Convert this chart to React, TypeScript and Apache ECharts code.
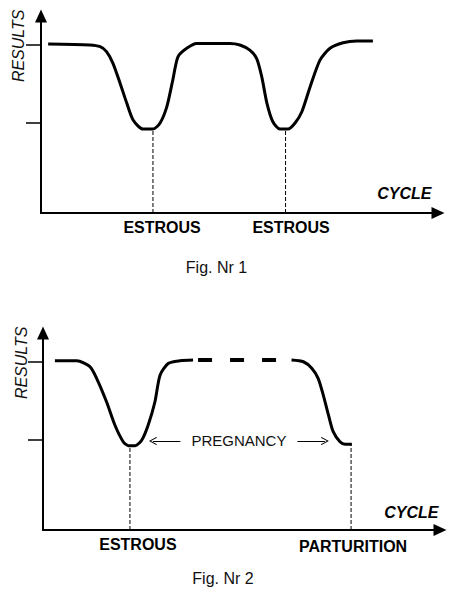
import React, { useEffect, useRef } from "react";
import * as echarts from "echarts";

const FONT = '"Liberation Sans", Arial, Helvetica, sans-serif';

// ---------- Fig. Nr 1 ----------
const fig1Curve: [number, number][] = [
  [1.8, 85.8], [12.3, 85.3], [14.9, 84.4], [16.5, 81.9], [18.1, 76.1],
  [19.9, 66.0], [21.6, 55.8], [23.2, 47.2], [25.7, 42.6], [28.2, 42.6],
  [30.0, 45.7], [31.7, 54.0], [33.2, 67.5], [34.5, 79.3], [36.7, 83.6],
  [39.2, 86.1], [47.6, 86.1], [50.1, 85.3], [52.6, 82.7], [54.3, 78.5],
  [55.6, 69.2], [56.9, 55.8], [58.4, 46.3], [60.2, 42.6], [62.2, 42.6],
  [64.0, 45.7], [65.7, 51.4], [67.8, 64.1], [70.3, 77.7], [72.8, 83.6],
  [76.1, 86.4], [79.5, 87.3], [83.6, 87.3],
];
const fig1EventX = [28.2, 61.6];
const fig1EventY = [42.6, 42.6];
const fig1LabelX = [30.5, 63.0];
const fig1LabelText = ["ESTROUS", "ESTROUS"];

// ---------- Fig. Nr 2 ----------
const fig2CurveStart: [number, number][] = [
  [3.0, 85.9], [8.5, 85.9], [11.8, 82.9], [13.5, 77.0], [16.0, 65.1],
  [18.1, 53.3], [20.2, 44.8], [21.5, 42.8], [23.2, 42.8], [24.9, 45.7],
  [26.5, 53.3], [28.2, 65.1], [29.5, 78.7], [31.6, 84.6], [34.5, 85.9],
  [37.8, 86.3],
];
const fig2Pregnancy: [number, number][] = [[37.8, 86.3], [62.6, 86.3]];
const fig2CurveEnd: [number, number][] = [
  [62.6, 86.3], [65.6, 85.4], [67.7, 82.1], [69.3, 77.0], [70.6, 68.5],
  [71.9, 58.4], [73.1, 49.9], [74.8, 44.8], [76.1, 43.5], [77.8, 43.5],
];
const fig2EventX = [21.9, 77.6];
const fig2EventY = [42.8, 43.5];
const fig2LabelX = [23.9, 78.1];
const fig2LabelText = ["ESTROUS", "PARTURITION"];
const pregnancySpan = [27.7, 71.0];
const pregnancyY = 45.2;

// shared
const levelTicks = [46.0, 85.3];
const captions = ["Fig. Nr 1", "Fig. Nr 2"];
const axisNames = { x: "CYCLE", y: "RESULTS" };

const CHEVRON = "path://M0,10 L5,0 L10,10 L9,10.9 L5,2.6 L1,10.9 Z";

function axisLine() {
  return {
    show: true,
    onZero: false,
    lineStyle: { color: "#000", width: 2 },
    symbol: ["none", "triangle"],
    symbolSize: [12, 13],
  };
}

function makeX(gridIndex: number, labelX: number[], labelText: string[], nameGap: number, namePad: number, lowIndex: number) {
  return {
    type: "value",
    gridIndex,
    min: 0,
    max: 100,
    axisLine: axisLine(),
    axisTick: { show: false },
    splitLine: { show: false },
    axisLabel: {
      show: true,
      customValues: labelX,
      margin: 5,
      hideOverlap: false,
      formatter: (v: number) => {
        const i = labelX.findIndex((x) => Math.abs(x - v) < 1e-6);
        const t = i >= 0 ? labelText[i] : "";
        return i === lowIndex ? `{low|${t}}` : `{base|${t}}`;
      },
      rich: {
        base: { fontFamily: FONT, fontSize: 16, fontWeight: "bold", color: "#000", lineHeight: 18 },
        low: { fontFamily: FONT, fontSize: 16, fontWeight: "bold", color: "#000", lineHeight: 18, padding: [4, 0, 0, 0] },
      },
    },
    name: axisNames.x,
    nameLocation: "end",
    nameGap,
    nameTextStyle: {
      fontFamily: FONT,
      fontSize: 16,
      fontWeight: "bold",
      fontStyle: "italic",
      color: "#000",
      align: "right",
      verticalAlign: "bottom",
      padding: [0, 0, namePad, 0],
    },
  };
}

function makeY(gridIndex: number, namePad: number) {
  return {
    type: "value",
    gridIndex,
    min: 0,
    max: 100,
    axisLine: axisLine(),
    axisTick: { show: true, customValues: levelTicks, length: 15, lineStyle: { color: "#000", width: 1.5 } },
    axisLabel: { show: false },
    splitLine: { show: false },
    name: axisNames.y,
    nameLocation: "end",
    nameRotate: 90,
    nameGap: 6.5,
    nameTextStyle: {
      fontFamily: FONT,
      fontSize: 16,
      fontStyle: "italic",
      color: "#111",
      align: "right",
      verticalAlign: "bottom",
      padding: [0, 0, namePad, 0],
    },
  };
}

function curve(axis: number, data: [number, number][], width = 3, type: any = "solid", dashOffset = 0) {
  return {
    type: "line",
    xAxisIndex: axis,
    yAxisIndex: axis,
    data,
    smooth: 0.25,
    symbol: "none",
    silent: true,
    z: 3,
    lineStyle: { color: "#000", width, type, dashOffset, cap: "butt" },
  };
}

function guides(axis: number, xs: number[], ys: number[]) {
  return xs.map((x, i) => ({
    type: "line",
    xAxisIndex: axis,
    yAxisIndex: axis,
    data: [[x, 0], [x, ys[i]]],
    symbol: "none",
    silent: true,
    z: 2,
    lineStyle: { color: "#000", width: 1, type: [4, 2] },
  }));
}

export default function App() {
  const ref = useRef<HTMLDivElement>(null);

  useEffect(() => {
    if (!ref.current) return;
    const chart = echarts.init(ref.current, undefined, { renderer: "svg" });

    const pregnancySeries: any = curve(1, fig2Pregnancy, 4, [14, 18], 27);
    pregnancySeries.smooth = false;
    pregnancySeries.markLine = {
      silent: true,
      animation: false,
      symbol: [CHEVRON, CHEVRON],
      symbolSize: [8, 8],
      lineStyle: { color: "#000", width: 1, type: "solid" },
      label: {
        show: true,
        position: "insideMiddle",
        formatter: "PREGNANCY",
        backgroundColor: "#fff",
        padding: [2, 11],
        color: "#111",
        fontFamily: FONT,
        fontSize: 15,
        distance: 0,
      },
      emphasis: { disabled: true },
      data: [[{ coord: [pregnancySpan[0], pregnancyY] }, { coord: [pregnancySpan[1], pregnancyY] }]],
    };

    chart.setOption({
      animation: false,
      backgroundColor: "#fff",
      grid: [
        { left: 41, top: 16, width: 397, height: 197 },
        { left: 43, top: 333, width: 397, height: 197 },
      ],
      xAxis: [
        makeX(0, fig1LabelX, fig1LabelText, -6.5, 12, -1),
        makeX(1, fig2LabelX, fig2LabelText, -1.5, 10, 1),
      ],
      yAxis: [makeY(0, 15), makeY(1, 14)],
      series: [
        ...guides(0, fig1EventX, fig1EventY),
        curve(0, fig1Curve),
        ...guides(1, fig2EventX, fig2EventY),
        curve(1, fig2CurveStart),
        pregnancySeries,
        curve(1, fig2CurveEnd),
      ],
      graphic: [
        {
          type: "text",
          x: 216.5,
          y: 267,
          style: { text: captions[0], fontFamily: FONT, fontSize: 16, fill: "#111", align: "center", verticalAlign: "middle" },
        },
        {
          type: "text",
          x: 223,
          y: 578,
          style: { text: captions[1], fontFamily: FONT, fontSize: 16, fill: "#111", align: "center", verticalAlign: "middle" },
        },
      ],
    });

    return () => chart.dispose();
  }, []);

  return (
    <div
      ref={ref}
      style={{ position: "absolute", left: 0, top: 0, width: 475, height: 603, background: "#fff" }}
    />
  );
}
